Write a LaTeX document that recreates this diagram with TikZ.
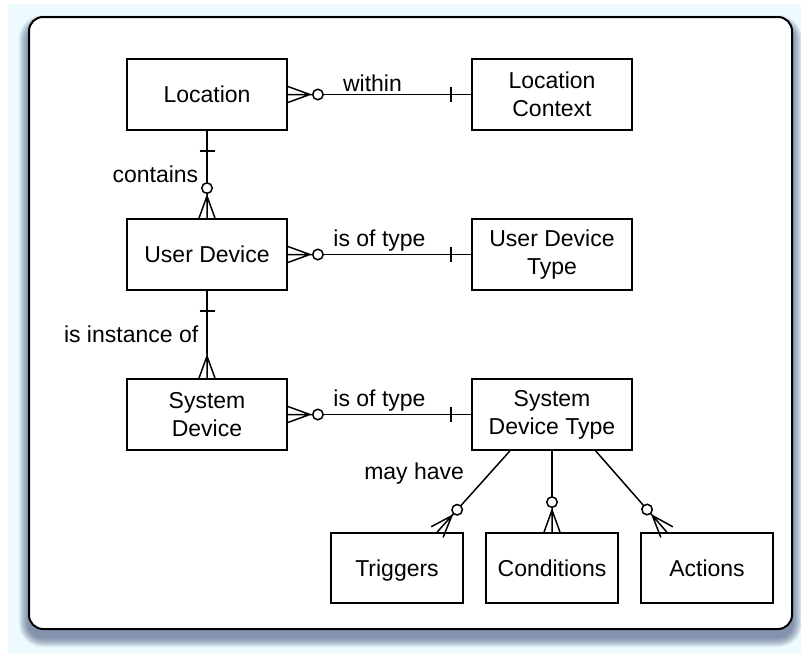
\documentclass[tikz,border=0pt]{standalone}
\usepackage{fontspec}
\setmainfont{Liberation Sans}
\usepackage{tikz}
\usetikzlibrary{arrows.meta,calc}
\definecolor{erBg}{RGB}{237,251,254}
\definecolor{erShadow}{RGB}{55,70,115}

% crow's foot: three prongs meeting a little way from the box
\pgfdeclarearrow{
  name = Crow,
  parameters = {\the\pgfarrowlength,\the\pgfarrowwidth,\the\pgfarrowinset},
  setup code = {
    \pgfarrowssettipend{0pt}
    \pgfarrowssetlineend{-\pgfarrowlength}
    \pgfarrowssetbackend{-\pgfarrowlength}
    \pgfarrowssavethe\pgfarrowlength
    \pgfarrowssavethe\pgfarrowwidth
    \pgfarrowssavethe\pgfarrowinset
  },
  drawing code = {
    \pgfpathmoveto{\pgfpoint{0pt}{.5\pgfarrowwidth}}
    \pgfpathlineto{\pgfpoint{\pgfarrowinset-\pgfarrowlength}{0pt}}
    \pgfpathlineto{\pgfpoint{0pt}{-.5\pgfarrowwidth}}
    \pgfpathmoveto{\pgfpointorigin}
    \pgfpathlineto{\pgfpoint{-\pgfarrowlength}{0pt}}
    \pgfusepathqstroke
  },
  defaults = {length=24pt, width=16pt, inset=2pt}
}
% "one": a cross bar set back from the box
\pgfdeclarearrow{
  name = One,
  parameters = {\the\pgfarrowlength,\the\pgfarrowwidth},
  setup code = {
    \pgfarrowssettipend{0pt}
    \pgfarrowssetlineend{0pt}
    \pgfarrowssetbackend{-\pgfarrowlength}
    \pgfarrowssavethe\pgfarrowlength
    \pgfarrowssavethe\pgfarrowwidth
  },
  drawing code = {
    \pgfpathmoveto{\pgfpoint{-\pgfarrowlength}{.5\pgfarrowwidth}}
    \pgfpathlineto{\pgfpoint{-\pgfarrowlength}{-.5\pgfarrowwidth}}
    \pgfusepathqstroke
  },
  defaults = {length=20pt, width=15pt}
}
\tikzset{ZeroMany/.tip={Circle[fill=white,length=12pt,width=12pt] Crow}}

\begin{document}
\begin{tikzpicture}[x=1pt, y=-1pt,
  entity/.style={draw, line width=1.8pt, fill=white, minimum width=160pt, minimum height=71pt, align=center, font=\fontsize{23}{28}\selectfont},
  small/.style={entity, minimum width=132pt, minimum height=70pt, text height=17pt, text depth=0pt},
  rel/.style={line width=1.5pt},
  lab/.style={font=\fontsize{23}{28}\selectfont, inner sep=2pt}]
  % page, shadow and frame
  \useasboundingbox (0,0) rectangle (801,653);
  \fill[erBg] (8,4) rectangle (801,653);
  \foreach \s [evaluate=\s as \r using 14+\s] in {1,...,10}
    \fill[erShadow, opacity=.08, rounded corners=\r pt] (29-\s,25-\s) rectangle (792+\s,637+\s);
  \draw[line width=2pt, fill=white, rounded corners=14pt] (29,17) rectangle (792,629);

  \node[entity] (loc) at (207,94.5) {Location};
  \node[entity] (lctx) at (552,94.5) {Location\\Context};
  \node[entity] (ud) at (207,254.5) {User Device};
  \node[entity] (udt) at (552,254.5) {User Device\\Type};
  \node[entity] (sd) at (207,414.5) {System\\Device};
  \node[entity] (sdt) at (552,414.5) {System\\Device Type};
  \node[small] (trig) at (397,568) {Triggers};
  \node[small] (cond) at (552,568) {Conditions};
  \node[small] (act) at (707,568) {Actions};

  \draw[rel, One-ZeroMany] (lctx) -- (loc) node[lab, midway, above, xshift=-7pt] {within};
  \draw[rel, One-ZeroMany] (loc) -- (ud) node[lab, midway, left=6pt] {contains};
  \draw[rel, One-ZeroMany] (udt) -- (ud) node[lab, midway, above] {is of type};
  \draw[rel, One-Crow] (ud) -- (sd) node[lab, midway, left=6pt] {is instance of};
  \draw[rel, One-ZeroMany] (sdt) -- (sd) node[lab, midway, above] {is of type};

  \draw[rel, -ZeroMany] ($(sdt.south west)!.24!(sdt.south east)$) -- ($(trig.north west)!.8!(trig.north east)$)
    node[lab, pos=.25, left=25pt, yshift=-2pt] {may have};
  \draw[rel, -ZeroMany] (sdt) -- (cond);
  \draw[rel, -ZeroMany] ($(sdt.south west)!.77!(sdt.south east)$) -- ($(act.north west)!.2!(act.north east)$);
\end{tikzpicture}
\end{document}
